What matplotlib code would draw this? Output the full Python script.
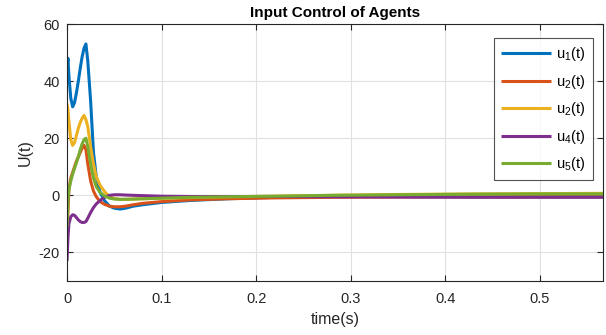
import matplotlib
matplotlib.use("Agg")
import matplotlib.pyplot as plt

plt.rcParams['font.family'] = ['Liberation Sans', 'DejaVu Sans']
plt.rcParams['mathtext.fontset'] = 'custom'
plt.rcParams['mathtext.rm'] = 'Liberation Sans'
plt.rcParams['mathtext.it'] = 'Liberation Sans'
plt.rcParams['axes.unicode_minus'] = False

t = [0, 0.001, 0.002, 0.004, 0.006, 0.008, 0.010, 0.012, 0.014, 0.016, 0.018,
     0.020, 0.022, 0.025, 0.028, 0.031, 0.035, 0.040, 0.045, 0.050, 0.056,
     0.062, 0.070, 0.080, 0.100, 0.130, 0.170, 0.220, 0.280, 0.350, 0.430,
     0.500, 0.570]

u1 = [44, 48, 42, 34, 31, 32.5, 36, 40, 44.5, 48.5, 51.5,
      53, 47, 33, 15, 6.5, 1, -2, -3.8, -4.5, -4.8,
      -4.5, -3.8, -3.3, -2.5, -1.8, -1.2, -0.7, -0.3, 0, 0.2,
      0.3, 0.3]
u2 = [-14, -6, 2, 6, 8, 10, 12, 13.5, 15, 16.5, 17.5,
      16, 11, 5, 1.5, -0.5, -2.2, -3.2, -3.8, -4, -4,
      -3.8, -3.3, -2.8, -2.2, -1.6, -1.2, -0.9, -0.7, -0.6, -0.5,
      -0.5, -0.5]
u3 = [32, 30, 26, 19.5, 17.5, 18.5, 21, 23.5, 25.5, 27, 28,
      26.5, 24, 17, 11, 6.5, 3.5, 1.2, -0.5, -1.1, -1.4,
      -1.4, -1.3, -1.2, -1, -0.8, -0.5, -0.3, 0, 0.3, 0.5,
      0.6, 0.7]
u4 = [-23, -15, -10, -7.5, -6.8, -7, -7.8, -8.6, -9.2, -9.5, -9.5,
      -9.2, -8, -6, -4.3, -3, -1.8, -0.6, 0, 0.2, 0.2,
      0.1, 0, -0.1, -0.3, -0.4, -0.4, -0.4, -0.5, -0.6, -0.7,
      -0.7, -0.7]
u5 = [-11, -2, 2, 5, 7.5, 9.5, 11.5, 13.5, 16, 18, 19.5,
      20, 17, 11, 6, 3, 1, -0.3, -1, -1.3, -1.4,
      -1.4, -1.3, -1.2, -1, -0.7, -0.5, -0.3, 0, 0.2, 0.4,
      0.5, 0.5]

series = [u1, u2, u3, u4, u5]
labels = [r'u$_1$(t)', r'u$_2$(t)', r'u$_2$(t)', r'u$_4$(t)', r'u$_5$(t)']
colors = ['#0072BD', '#D95319', '#EDB120', '#7E2F8E', '#77AC30']

xticks = [0, 0.1, 0.2, 0.3, 0.4, 0.5]
yticks = [-20, 0, 20, 40, 60]

fig = plt.figure(figsize=(6.06, 3.35), dpi=100)
ax = fig.add_axes([67/606, 1-281/335, 536/606, 257/335])

for y, lab, c in zip(series, labels, colors):
    ax.plot(t, y, color=c, lw=2.2, label=lab, solid_joinstyle='round', solid_capstyle='butt')

ax.set_xlim(0, 0.567)
ax.set_ylim(-30, 60)
ax.set_xticks(xticks)
ax.set_xticklabels(['0', '0.1', '0.2', '0.3', '0.4', '0.5'])
ax.set_yticks(yticks)
ax.grid(True, color='#e0e0e0', lw=0.8)
ax.set_axisbelow(True)
ax.tick_params(direction='in', top=True, right=True, labelsize=10.5, length=4,
               color='#262626', labelcolor='#262626')
ax.tick_params(axis='x', pad=8)
ax.tick_params(axis='y', pad=5)
for s in ax.spines.values():
    s.set_color('#262626')
    s.set_linewidth(0.8)

ax.set_title('Input Control of Agents', fontsize=11, fontweight='bold', pad=5)
ax.set_xlabel('time(s)', fontsize=11.5, color='#262626', labelpad=4)
ax.set_ylabel('U(t)', fontsize=11.5, color='#262626', labelpad=4)

leg = ax.legend(loc='upper right', bbox_to_anchor=((593-67)/536, (281-38)/257),
                borderaxespad=0, fontsize=10.5, handlelength=3.4, labelspacing=0.65,
                frameon=True, fancybox=False, edgecolor='#262626', handletextpad=0.4,
                borderpad=0.5)
leg.get_frame().set_linewidth(0.8)

fig.savefig('out.png', dpi=100)
